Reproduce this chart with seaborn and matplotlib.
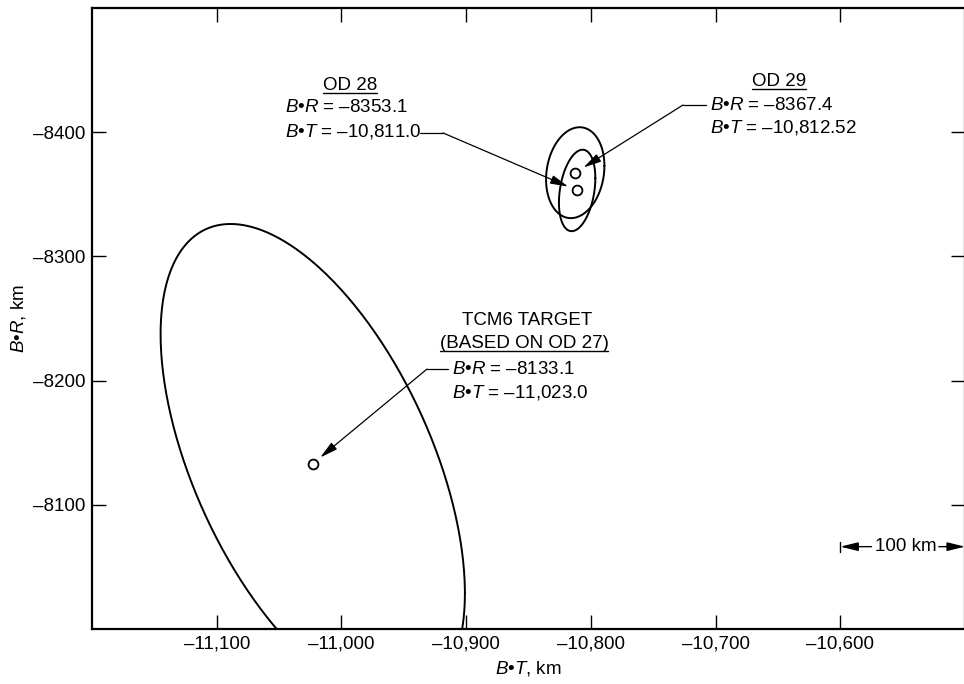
import numpy as np
import pandas as pd
import seaborn as sns
import matplotlib.pyplot as plt
from matplotlib.lines import Line2D
from matplotlib.ticker import FixedLocator, FuncFormatter

# orbit determination solutions on the B-plane (km)
names = ["TCM6 TARGET", "OD 28", "OD 29"]
b_dot_t = [-11023.0, -10811.0, -10812.52]
b_dot_r = [-8133.1, -8353.1, -8367.4]

# dispersion ellipses
sig_t = [122.0, 14.6, 23.4]
sig_r = [193.0, 32.8, 36.6]
rho = [0.54, -0.30, -0.15]

x_ticks = [-11100, -11000, -10900, -10800, -10700, -10600]
y_ticks = [-8400, -8300, -8200, -8100]

sns.set_theme(style="ticks")
plt.rcParams['font.family'] = ['Liberation Sans', 'DejaVu Sans']
plt.rcParams['mathtext.fontset'] = 'custom'
plt.rcParams['mathtext.rm'] = 'Liberation Sans'
plt.rcParams['mathtext.it'] = 'Liberation Sans:italic'
for k in ['text.color', 'axes.labelcolor', 'xtick.color', 'ytick.color', 'axes.edgecolor']:
    plt.rcParams[k] = 'black'

fs = 13.5

fig = plt.figure(figsize=(9.64, 6.84), dpi=100)
ax = fig.add_axes([92 / 964, 55 / 684, 873 / 964, 621 / 684])

# ellipses
t = np.linspace(0, 2 * np.pi, 400)
for ct, cr, st, sr, r in zip(b_dot_t, b_dot_r, sig_t, sig_r, rho):
    ell = pd.DataFrame({
        "bt": ct + st * np.cos(t),
        "br": cr + sr * (r * np.cos(t) + np.sqrt(1 - r ** 2) * np.sin(t)),
    })
    sns.lineplot(data=ell, x="bt", y="br", sort=False, estimator=None,
                 color="black", lw=1.4, ax=ax)

pts = pd.DataFrame({"bt": b_dot_t, "br": b_dot_r, "name": names})
sns.scatterplot(data=pts, x="bt", y="br", s=50, facecolor="white",
                edgecolor="black", linewidth=1.3, zorder=5, ax=ax)

ax.set_xlim(-11200, -10500)
ax.set_ylim(-8000, -8500)

ax.xaxis.set_major_locator(FixedLocator(x_ticks))
ax.yaxis.set_major_locator(FixedLocator(y_ticks))
ax.xaxis.set_major_formatter(FuncFormatter(lambda v, _: "\u2013" + f"{abs(v):,.0f}"))
ax.yaxis.set_major_formatter(FuncFormatter(lambda v, _: "\u2013" + f"{abs(v):.0f}"))
ax.tick_params(direction="in", length=10, width=1, labelsize=fs,
               top=True, right=True, pad=5, color="black", labelcolor="black")
for s in ax.spines.values():
    s.set_linewidth(1.6)
    s.set_color("black")

ax.set_xlabel("$B$\u2022$T$, km", fontsize=fs, labelpad=4)
ax.set_ylabel("$B$\u2022$R$, km", fontsize=fs, labelpad=3)

titles = []

# OD 28 block
titles.append(ax.text(-10993.1, -8438.0, "OD 28", ha="center", va="center", fontsize=fs))
ax.text(-11045.2, -8419.5, "$B$\u2022$R$ = \u20138353.1", ha="left", va="center", fontsize=fs)
ax.text(-11045.2, -8400.2, "$B$\u2022$T$ = \u201310,811.0", ha="left", va="center", fontsize=fs)
ax.plot([-10937.0, -10918.5], [-8399.4, -8399.4], color="black", lw=0.9)

# OD 29 block
titles.append(ax.text(-10649.0, -8441.2, "OD 29", ha="center", va="center", fontsize=fs))
ax.text(-10704.4, -8421.9, "$B$\u2022$R$ = \u20138367.4", ha="left", va="center", fontsize=fs)
ax.text(-10704.4, -8403.4, "$B$\u2022$T$ = \u201310,812.52", ha="left", va="center", fontsize=fs)
ax.plot([-10707.6, -10726.1], [-8421.9, -8421.9], color="black", lw=0.9)

# TCM6 block
ax.text(-10851.2, -8248.0, "TCM6 TARGET", ha="center", va="center", fontsize=fs)
titles.append(ax.text(-10853.6, -8229.5, "(BASED ON OD 27)", ha="center", va="center", fontsize=fs))
ax.text(-10911.3, -8209.3, "$B$\u2022$R$ = \u20138133.1", ha="left", va="center", fontsize=fs)
ax.text(-10911.3, -8190.8, "$B$\u2022$T$ = \u201311,023.0", ha="left", va="center", fontsize=fs)
ax.plot([-10914.5, -10931.4], [-8209.3, -8209.3], color="black", lw=0.9)

arrow = dict(arrowstyle="-|>,head_length=0.9,head_width=0.22", color="black",
             lw=0.9, shrinkA=0, shrinkB=7, mutation_scale=12)
corners = [(-10931.4, -8209.3), (-10918.5, -8399.4), (-10726.1, -8421.9)]
for (cx, cy), px, py in zip(corners, b_dot_t, b_dot_r):
    ax.annotate("", xy=(px, py), xytext=(cx, cy), arrowprops=arrow)

# 100 km scale bar
bar_y = -8066.3
ax.text(-10547.5, bar_y, "100 km", ha="center", va="center", fontsize=fs)
sarrow = dict(arrowstyle="-|>,head_length=0.9,head_width=0.22", color="black",
              lw=1.0, shrinkA=0, shrinkB=0, mutation_scale=12)
ax.annotate("", xy=(-10600, bar_y), xytext=(-10575, bar_y), arrowprops=sarrow)
ax.annotate("", xy=(-10500, bar_y), xytext=(-10521, bar_y), arrowprops=sarrow)
ax.plot([-10600, -10600], [bar_y - 4, bar_y + 4], color="black", lw=1.0)

# underline the headings
fig.canvas.draw()
rend = fig.canvas.get_renderer()
W, H = fig.bbox.width, fig.bbox.height
for tt in titles:
    bb = tt.get_window_extent(rend)
    y = bb.y0 + 1
    fig.add_artist(Line2D([bb.x0 / W, bb.x1 / W], [y / H, y / H],
                          transform=fig.transFigure, color="black", lw=1.0))

fig.savefig("out.png", dpi=100)
